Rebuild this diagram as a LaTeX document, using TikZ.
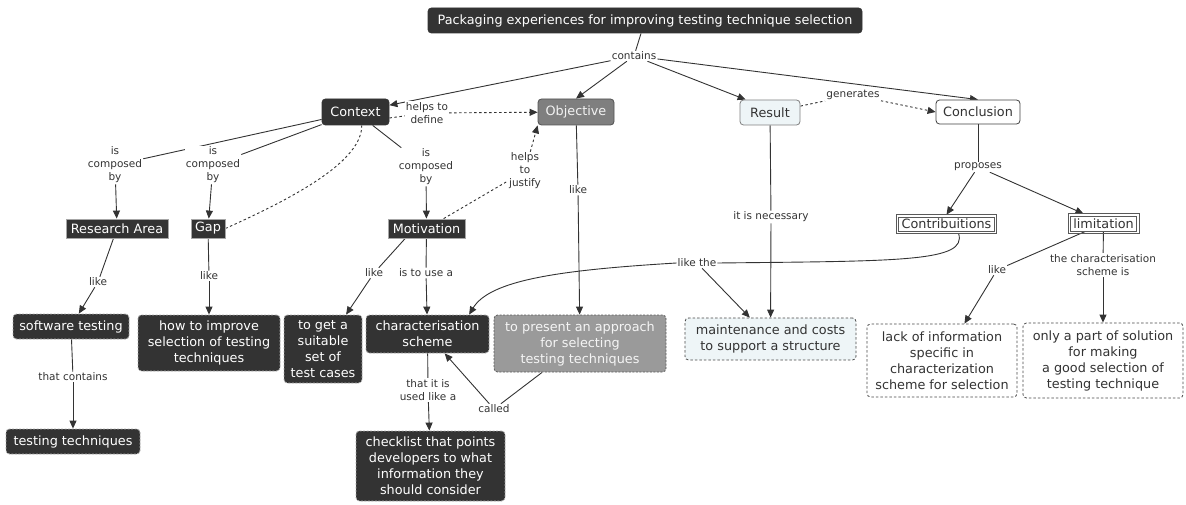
\documentclass[tikz,border=0pt]{standalone}
\usepackage{fontspec}
\setmainfont{DejaVu Sans}
\usetikzlibrary{arrows.meta}
\pgfdeclarelayer{bg}
\pgfsetlayers{bg,main}

\definecolor{ink}{HTML}{333333}
\definecolor{objfill}{HTML}{7F7F7F}
\definecolor{apprfill}{HTML}{9A9A9A}
\definecolor{resfill}{HTML}{EEF5F7}
\definecolor{edgecol}{HTML}{333333}

\begin{document}
\begin{tikzpicture}[x=1pt,y=-1pt,
  every node/.style={align=center},
  cfont/.style={font=\fontsize{12.8}{16}\selectfont},
  lfont/.style={font=\fontsize{10.5}{13}\selectfont},
  concept/.style={cfont, rounded corners=3.5pt, inner xsep=3pt, inner ysep=2pt, line width=0.8pt},
  darkround/.style={concept, fill=ink, draw=ink, text=white},
  darksquare/.style={cfont, fill=ink, draw=gray!70, text=white, inner xsep=3pt, inner ysep=1pt, line width=0.8pt},
  darkdash/.style={concept, fill=ink, draw=gray!65, dash pattern=on 2pt off 1.5pt, text=white},
  lightdash/.style={concept, draw=ink!90, dash pattern=on 2.5pt off 2pt, text=ink},
  twoline/.style={cfont, fill=white, draw=gray!70!black, line width=0.6pt, text=ink, inner xsep=3pt, inner ysep=1pt},
  outerframe/.style={draw=gray!70!black, line width=0.6pt},
  lbl/.style={lfont, text=ink, fill=white, inner sep=1pt},
  link/.style={draw=edgecol, line width=0.9pt},
  tip/.style={-{Triangle[length=8pt,width=7pt]}},
  arr/.style={link, tip},
  dlink/.style={link, dash pattern=on 2.5pt off 2.5pt},
]
\useasboundingbox (0,0) rectangle (1186,505);

% ---- concepts, top rows
\node[darkround, minimum width=434pt, minimum height=25pt] (title) at (645,20.5)
  {Packaging experiences for improving testing technique selection};
\node[lbl] (contains) at (634,56) {contains};

\node[darkround, minimum width=67pt, minimum height=26pt] (context) at (355.5,112) {Context};
\node[concept, fill=objfill, draw=ink!85, text=white!90!gray, minimum width=76pt, minimum height=26pt] (objective) at (576,112) {Objective};
\node[concept, fill=resfill, draw=gray, text=ink, minimum width=60pt, minimum height=25pt] (result) at (770,112.5) {Result};
\node[concept, fill=white, draw=gray!50!black, text=ink, minimum width=84pt, minimum height=24pt] (conclusion) at (978,112) {Conclusion};

\node[lbl] (define) at (427,113) {helps to\\define};
\node[lbl] (generates) at (853,95) {generates};

\node[lbl] (comp1) at (115,165) {is\\composed\\by};
\node[lbl] (comp2) at (213,165) {is\\composed\\by};
\node[lbl] (comp3) at (426,167) {is\\composed\\by};
\node[lbl] (justify) at (525,171) {helps\\to\\justify};
\node[lbl] (necessary) at (771,217) {it is necessary};
\node[lbl] (proposes) at (978,167) {proposes};

\node[darksquare, minimum width=102pt, minimum height=19pt] (area) at (117,228.5) {Research Area};
\node[darksquare, minimum width=34pt, minimum height=19pt] (gap) at (208,228.5) {Gap};
\node[darksquare, minimum width=77pt, minimum height=19pt] (motiv) at (426.5,228.5) {Motivation};

% boxes with a double frame
\node[twoline, minimum width=95pt, minimum height=14pt] (contrib) at (946.5,224) {Contribuitions};
\draw[outerframe] ([shift={(-2pt,2pt)}]contrib.north west) rectangle ([shift={(2pt,-2pt)}]contrib.south east);
\node[twoline, minimum width=65pt, minimum height=15pt] (limit) at (1103.5,223.5) {limitation};
\draw[outerframe] ([shift={(-2pt,2pt)}]limit.north west) rectangle ([shift={(2pt,-2pt)}]limit.south east);

% ---- linking phrases, middle
\node[lbl] (like1) at (98,282) {like};
\node[lbl] (like2) at (209,276) {like};
\node[lbl] (like3) at (374,273) {like};
\node[lbl] (useA) at (426,273) {is to use a};
\node[lbl] (like4) at (578,190) {like};
\node[lbl] (likethe) at (697,263) {like the};
\node[lbl] (like5) at (997,270) {like};
\node[lbl] (schemeis) at (1103,265) {the characterisation\\scheme is};

% ---- lower concepts
\node[darkdash, minimum width=116pt, minimum height=25pt] (swt) at (71,326.5) {software testing};
\node[darkdash, minimum width=142pt, minimum height=56pt] (improve) at (209,343) {how to improve\\selection of testing\\techniques};
\node[darkdash, minimum width=78pt, minimum height=68pt] (getset) at (323,349) {to get a\\suitable\\set of\\test cases};
\node[darkdash, minimum width=123pt, minimum height=38pt] (scheme) at (427.5,334) {characterisation\\scheme};
\node[concept, fill=apprfill, draw=ink!80, dash pattern=on 2pt off 1.5pt, text=white!92!gray, minimum width=172pt, minimum height=57pt] (approach) at (580,343.5) {to present an approach\\for selecting\\testing techniques};
\node[lightdash, fill=resfill, minimum width=171pt, minimum height=42pt] (maint) at (770.5,339) {maintenance and costs\\to support a structure};
\node[lightdash, fill=white, minimum width=150pt, minimum height=73pt] (lack) at (942,360.5) {lack of information\\specific in\\characterization\\scheme for selection};
\node[lightdash, fill=white, minimum width=160pt, minimum height=75pt] (onlypart) at (1103,360.5) {only a part of solution\\for making\\a good selection of\\testing technique};

\node[lbl] (thatcont) at (73,377) {that contains};
\node[darkdash, minimum width=134pt, minimum height=25pt] (techs) at (73,441.5) {testing techniques};
\node[lbl] (usedlike) at (428,390) {that it is\\used like a};
\node[lbl] (called) at (494,409) {called};
\node[darkdash, minimum width=149pt, minimum height=70pt] (checklist) at (430.5,466) {checklist that points\\developers to what\\information they\\should consider};

% ---- connectors
\begin{pgfonlayer}{bg}
\draw[link] (title) -- (contains);
\draw[arr] (contains) -- (context);
\draw[arr] (contains) -- (objective.north);
\draw[arr] (contains) -- ([xshift=6pt]result.north west);
\draw[arr] (contains) -- (conclusion.north);

\draw[dlink] (context.-10) -- (define);
\draw[dlink, tip] (define) -- (objective);
\draw[dlink] (gap.east) .. controls (300,195) and (362,160) .. (context.-65);
\draw[dlink] (result) -- (generates);
\draw[dlink, tip] (generates) -- (conclusion.west);

\draw[link] (context) -- (comp1);
\draw[arr] (comp1) -- (area);
\draw[link] (context) -- (comp2);
\draw[arr] (comp2) -- (gap);
\draw[link] (context) -- (comp3);
\draw[arr] (comp3) -- (motiv);

\draw[dlink] (motiv.30) -- (justify);
\draw[dlink, tip] (justify) -- (objective.south west);

\draw[link] (area) -- (like1);
\draw[arr] (like1) -- (swt);
\draw[link] (gap) -- (like2);
\draw[arr] (like2) -- (improve);
\draw[link] (motiv.-155) -- (like3);
\draw[arr] (like3) -- (getset);
\draw[link] (motiv) -- (useA);
\draw[arr] (useA) -- (scheme);
\draw[link] (objective) -- (like4);
\draw[arr] (like4) -- (approach);
\draw[link] (result) -- (necessary);
\draw[arr] (necessary) -- (maint);

\draw[link] (conclusion) -- (proposes);
\draw[arr] (proposes) -- ([yshift=2pt]contrib.north);
\draw[arr] (proposes) -- ([shift={(-20pt,2pt)}]limit.north);

\draw[link] ([shift={(12pt,-2pt)}]contrib.south) .. controls (968,262) and (900,261) .. (likethe.east);
\draw[arr] (likethe.west) .. controls (560,270) and (490,280) .. (scheme.25);
\draw[arr] (likethe) -- (maint);

\draw[link] (limit) -- (like5);
\draw[arr] (like5) -- (lack);
\draw[link] (limit) -- (schemeis);
\draw[arr] (schemeis) -- (onlypart);

\draw[link] (swt) -- (thatcont);
\draw[arr] (thatcont) -- (techs);
\draw[link] (scheme) -- (usedlike);
\draw[arr] (usedlike) -- (checklist);
\draw[link] (approach) -- (called);
\draw[arr] (called) -- (scheme);
\end{pgfonlayer}
\end{tikzpicture}
\end{document}
